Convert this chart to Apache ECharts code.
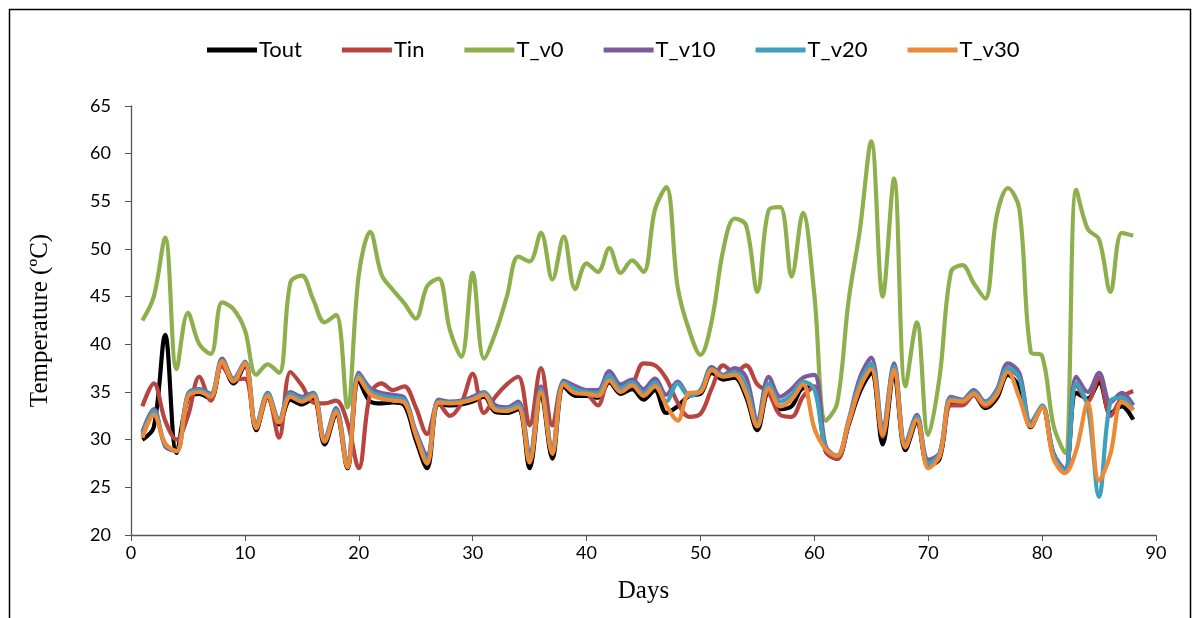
<!DOCTYPE html>
<html>
<head>
<meta charset="utf-8">
<script src="https://cdn.jsdelivr.net/npm/echarts@6/dist/echarts.min.js"></script>
<style>
html,body{margin:0;padding:0;background:#fff;}
#chart{width:1193px;height:618px;}
</style>
</head>
<body>
<div id="chart"></div>
<script>
const days = [1,2,3,4,5,6,7,8,9,10,11,12,13,14,15,16,17,18,19,20,21,22,23,24,25,26,27,28,29,30,31,32,33,34,35,36,37,38,39,40,41,42,43,44,45,46,47,48,49,50,51,52,53,54,55,56,57,58,59,60,61,62,63,64,65,66,67,68,69,70,71,72,73,74,75,76,77,78,79,80,81,82,83,84,85,86,87,88];

const Tout = [30.0,31.3,41.0,28.6,34.3,34.8,34.3,38.0,35.9,37.8,31.0,34.4,31.6,34.2,33.7,34.3,29.5,32.7,27.0,36.2,34.0,33.8,33.9,33.6,30.0,27.0,33.7,33.6,33.7,34.0,34.5,32.9,32.8,33.2,27.0,34.8,28.0,35.6,34.6,34.6,34.4,36.0,34.8,35.3,34.2,35.2,32.8,33.5,34.6,34.8,37.0,36.3,36.5,34.5,31.0,35.0,33.2,33.5,35.4,35.5,28.8,28.0,31.5,35.0,37.0,29.5,36.8,28.9,31.8,27.3,28.0,33.9,33.7,34.7,33.3,34.3,36.8,35.5,31.3,33.5,28.2,26.6,34.9,34.3,36.0,32.8,33.5,32.1];

const Tin = [33.5,35.9,32.0,30.0,32.5,36.6,34.1,37.7,36.3,36.4,31.3,34.5,30.2,37.1,35.7,33.9,33.8,34.1,31.8,27.0,34.8,35.9,35.2,35.6,33.4,30.6,33.8,32.5,33.8,36.9,32.8,34.5,35.8,36.6,31.5,37.5,31.5,36.0,35.6,34.9,33.6,36.4,35.3,35.8,38.0,37.8,36.4,33.9,32.4,32.7,35.4,37.8,37.0,37.8,35.8,34.9,32.6,32.4,34.5,35.6,28.8,28.0,31.6,35.4,37.6,30.3,37.6,29.2,32.3,27.4,28.2,33.6,33.6,34.7,33.5,34.6,37.3,36.5,31.6,33.5,28.4,26.8,35.8,34.0,36.5,32.5,34.4,35.1];

const T_v0 = [42.5,45.0,51.2,37.4,43.3,40.0,39.0,44.4,43.7,41.5,36.8,37.9,37.0,46.5,47.2,44.7,42.3,43.1,33.4,47.3,51.8,47.3,45.7,44.3,42.7,46.1,46.9,41.5,38.7,47.5,38.5,41.2,45.0,49.2,48.7,51.7,46.8,51.3,45.8,48.5,47.6,50.1,47.5,48.8,47.6,54.1,56.5,46.0,41.5,38.9,42.5,49.9,53.2,52.5,45.5,54.1,54.4,47.1,53.8,45.2,32.0,33.8,44.5,52.0,61.3,45.0,57.4,35.6,42.3,30.5,36.6,47.6,48.3,46.4,44.8,53.4,56.4,54.2,39.2,38.8,31.5,28.6,56.2,52.1,51.0,45.5,51.7,51.4];

const T_v10 = [30.8,33.2,29.3,28.8,34.8,35.3,34.8,38.5,36.4,38.2,31.5,34.9,32.1,35.0,34.5,34.9,30.2,33.3,27.5,37.0,35.4,34.9,34.7,34.4,30.9,28.4,34.2,34.0,34.1,34.5,35.0,33.6,33.4,34.0,28.5,35.6,29.0,36.2,35.6,35.2,35.2,37.2,35.8,36.3,35.3,36.4,34.7,36.1,34.7,35.2,37.6,36.8,37.5,36.6,32.1,36.6,34.5,35.3,36.5,36.8,29.3,28.3,32.0,36.5,38.6,31.2,38.0,29.6,32.6,27.9,28.6,34.5,34.2,35.2,34.0,35.2,38.0,37.0,31.8,33.5,28.6,26.9,36.6,35.0,37.0,33.9,34.9,33.6];

const T_v20 = [30.5,33.0,29.5,28.8,34.7,35.2,34.7,38.3,36.3,38.1,31.4,34.8,32.0,34.8,34.3,34.8,30.0,33.1,27.3,36.8,35.1,34.6,34.4,34.2,30.7,28.0,34.0,33.9,34.0,34.3,34.9,33.3,33.2,33.7,28.0,35.3,28.8,36.0,35.3,35.0,34.9,36.7,35.4,36.0,34.9,36.0,34.0,35.9,34.6,35.1,37.4,36.7,37.1,35.7,31.7,35.9,34.0,34.7,36.1,35.3,29.1,28.3,31.9,36.0,38.0,30.9,37.7,29.4,32.4,27.5,28.5,34.3,34.1,35.0,33.9,35.0,37.5,36.5,31.6,33.6,28.4,26.7,35.9,33.5,24.0,34.0,34.4,33.1];

const T_v30 = [30.2,32.6,29.6,28.8,34.5,35.0,34.5,38.2,36.1,38.0,31.2,34.6,31.8,34.5,34.0,34.6,29.8,32.9,27.1,36.5,34.8,34.3,34.1,33.9,30.5,27.5,33.9,33.8,33.9,34.2,34.7,33.1,33.0,33.4,27.6,35.0,28.5,35.8,34.9,34.8,34.6,36.2,35.0,35.7,34.6,35.6,33.6,32.0,34.9,35.0,37.3,36.6,36.8,34.9,31.4,35.4,33.5,34.2,35.8,31.2,29.0,28.3,31.8,35.5,37.4,30.5,37.3,29.2,32.1,27.0,28.3,34.1,34.0,34.8,33.7,34.7,37.1,34.4,31.4,33.4,28.0,26.5,28.9,33.9,25.7,28.5,34.0,33.1];

const seriesNames = ['Tout','Tin','T_v0','T_v10','T_v20','T_v30'];
const seriesData = [Tout, Tin, T_v0, T_v10, T_v20, T_v30];
const colors = ['#000000','#B8443F','#8DB04C','#7A5C9C','#3FA0BE','#EC8A38'];

const chart = echarts.init(document.getElementById('chart'), null, {renderer:'canvas'});
const series = seriesNames.map((n,i)=>({
  name:n,
  type:'line',
  data: days.map((d,j)=>[d, seriesData[i][j]]),
  smooth:0.35,
  showSymbol:false,
  symbol:'none',
  lineStyle:{color:colors[i], width:4.2},
  itemStyle:{color:colors[i]},
  z: 2+i
}));

chart.setOption({
  animation:false,
  backgroundColor:'#ffffff',
  graphic:[{
    type:'rect', left:7, top:7, shape:{width:1181, height:700},
    style:{fill:'none', stroke:'#000', lineWidth:1.5}, silent:true
  }],
  legend:{
    top:34, left:202,
    itemWidth:50, itemHeight:5, itemGap:40,
    icon:'rect',
    textStyle:{fontFamily:'Lato', fontSize:22, color:'#000', padding:[0,0,0,-3]},
    data: seriesNames
  },
  grid:{left:131, right:37, top:106, bottom:83},
  xAxis:{
    type:'value', min:0, max:90, interval:10,
    name:'Days', nameLocation:'middle', nameGap:44,
    nameTextStyle:{fontFamily:'Liberation Serif', fontSize:25, color:'#000'},
    axisLine:{lineStyle:{color:'#555', width:1.3}},
    axisTick:{show:true, inside:false, length:6, lineStyle:{color:'#555'}},
    axisLabel:{fontFamily:'Lato', fontSize:18, color:'#000', margin:9},
    splitLine:{show:false}
  },
  yAxis:{
    type:'value', min:20, max:65, interval:5,
    name:'Temperature (ºC)', nameLocation:'middle', nameGap:78, nameRotate:90,
    nameTextStyle:{fontFamily:'Liberation Serif', fontSize:25, color:'#000'},
    axisLine:{show:true, lineStyle:{color:'#555', width:1.3}},
    axisTick:{show:true, inside:false, length:6, lineStyle:{color:'#555'}},
    axisLabel:{fontFamily:'Lato', fontSize:18, color:'#000', margin:20},
    splitLine:{show:false}
  },
  series: series
});
</script>
</body>
</html>
